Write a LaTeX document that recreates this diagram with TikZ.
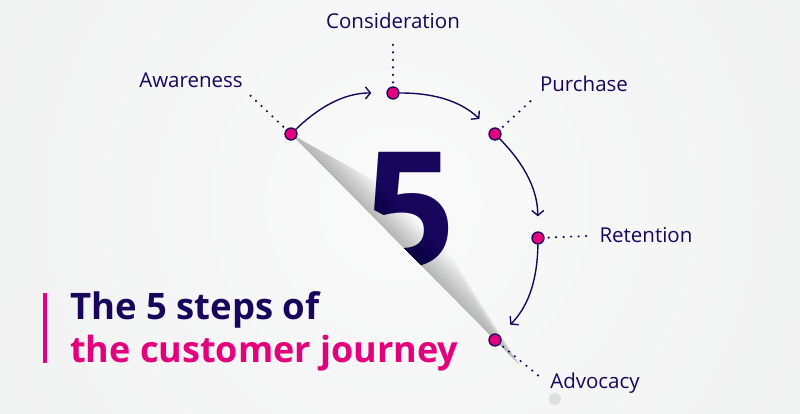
\documentclass[tikz,border=0pt]{standalone}
\usepackage{fontspec}
\setmainfont{Open Sans}
\usepackage{tikz}
\usetikzlibrary{positioning,calc,arrows.meta}
\definecolor{journeynavy}{HTML}{17065C}
\definecolor{journeypink}{HTML}{E4007C}
\definecolor{pagebg}{HTML}{EDEEEE}
\definecolor{pageglow}{HTML}{FAFAFA}
\definecolor{decogray}{HTML}{DFDFE0}

\begin{document}
\begin{tikzpicture}[x=1pt, y=1pt, stepdot/.style={circle, draw=journeynavy, fill=journeypink, line width=1.3pt, minimum size=12pt, inner sep=0pt}, steplabel/.style={text=journeynavy, font=\fontsize{20.5}{24}\selectfont, inner sep=2pt, anchor=base}, flow/.style={-{Straight Barb[length=5pt,width=12pt]}, draw=journeynavy, line width=1.4pt, shorten >=15pt}, leader/.style={draw=journeynavy, line width=2.4pt, line cap=round, dash pattern=on 0pt off 7.5pt, shorten <=4pt, shorten >=7pt}]
\useasboundingbox (0,0) rectangle (800,414);
\clip (0,0) rectangle (800,414);
\fill[pagebg] (0,0) rectangle (800,414);
\shade[inner color=pageglow, outer color=pagebg] (400,210) circle (650);
% the big five, cut by the fold
\coordinate (foldA) at (291,280);
\coordinate (foldB) at (495,74);
\begin{scope}
  \clip ($(foldA)!-1!(foldB)$) -- ($(foldA)!2!(foldB)$) -- (900,-140) -- (900,500) -- cycle;
  \node[text=journeynavy, font=\fontsize{160}{160}\selectfont\bfseries] (five) at (410,204) {5};
\end{scope}
% shadow of the folded page
\begin{scope}[shift={(foldA)}, rotate=-45.3]
  \foreach \w in {2,4,...,28}
    \fill[black, opacity=0.02] (0,0) -- (\w*3.5,\w) -- (285-\w*3,\w) -- (325,0) -- cycle;
\end{scope}
% steps
\node[stepdot] (aw) at (291,280) {};
\node[stepdot] (co) at (393,321) {};
\node[stepdot] (pu) at (495,280) {};
\node[stepdot] (re) at (538,176) {};
\node[stepdot] (ad) at (495,74) {};
\draw[flow] (aw) to[bend left=22] (co);
\draw[flow] (co) to[bend left=22] (pu);
\draw[flow] (pu) to[bend left=22] (re);
\draw[flow] (re) to[bend left=22] (ad);
\node[steplabel] (awL) at (191,326) {Awareness};
\node[steplabel] (coL) at (393,385) {Consideration};
\node[steplabel] (puL) at (584,322) {Purchase};
\node[steplabel] (reL) at (646,171) {Retention};
\node[steplabel] (adL) at (595,25) {Advocacy};
\draw[leader] (aw) -- (awL.south east);
\draw[leader] (co) -- (coL.south);
\draw[leader] (pu) -- (puL.south west);
\draw[leader] (re) -- (reL.west);
\draw[leader] (ad) -- (adL.west);
\node[circle, fill=decogray, minimum size=12pt, inner sep=0pt] (deco) at (555,15) {};
% title
\draw[journeypink, line width=3.5pt] (45,121) -- (45,51);
\node[anchor=base west, inner sep=0pt, text=journeynavy, font=\fontsize{36.5}{44}\selectfont\bfseries] (titleA) at (70,94) {The 5 steps of};
\node[anchor=base west, inner sep=0pt, text=journeypink, font=\fontsize{36}{44}\selectfont\bfseries] (titleB) at (70,51) {the customer journey};
\end{tikzpicture}
\end{document}
